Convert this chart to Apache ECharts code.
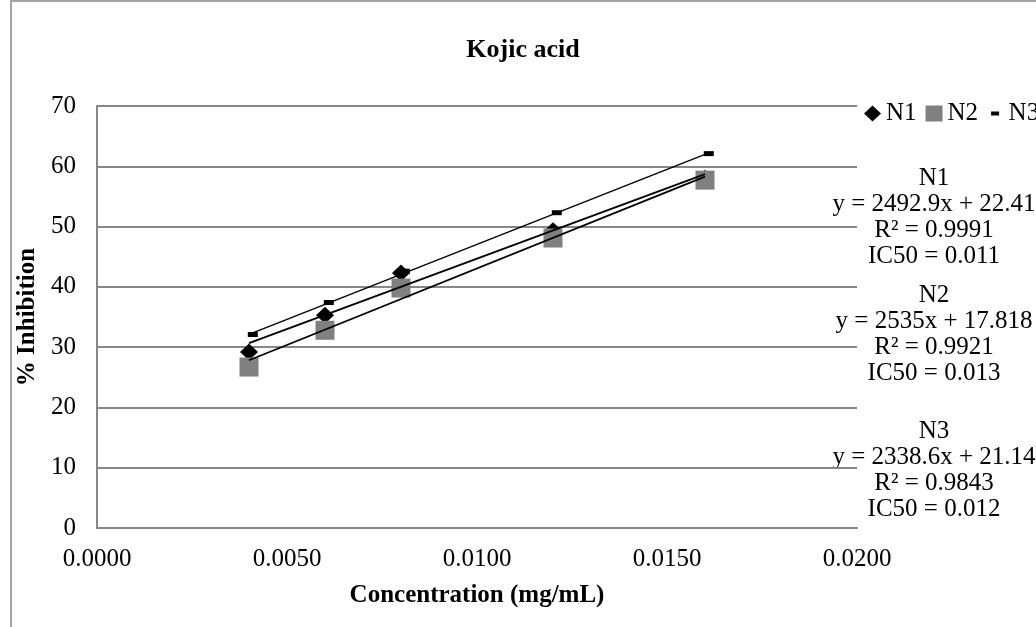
<!DOCTYPE html>
<html>
<head>
<meta charset="utf-8">
<script src="https://cdn.jsdelivr.net/npm/echarts@6/dist/echarts.min.js"></script>
<style>
  html, body { margin: 0; padding: 0; background: #ffffff; }
  #chart { width: 1036px; height: 627px; }
</style>
</head>
<body>
<div id="chart"></div>
<script>
// Concentrations (mg/mL)
const concentrations = [0.004, 0.006, 0.008, 0.012, 0.016];
const concentrationsN3 = [0.0041, 0.0061, 0.0081, 0.0121, 0.0161];

// % inhibition per replicate
const inhibitionN1 = [29.2, 35.3, 42.3, 49.3, 58.0];
const inhibitionN2 = [26.7, 32.8, 39.8, 48.1, 57.7];
const inhibitionN3 = [32.1, 37.4, 42.6, 52.3, 62.1];

const seriesNames = ['N1', 'N2', 'N3'];

// Trendline equation boxes, as printed beside the plot
const equationN1 = ['N1', 'y = 2492.9x + 22.41', 'R\u00b2 = 0.9991', 'IC50 = 0.011'];
const equationN2 = ['N2', 'y = 2535x + 17.818', 'R\u00b2 = 0.9921', 'IC50 = 0.013'];
const equationN3 = ['N3', 'y = 2338.6x + 21.14', 'R\u00b2 = 0.9843', 'IC50 = 0.012'];

const FONT = "'Liberation Serif', 'Times New Roman', serif";
const GRID_GREY = '#878787';
const TEXT_SIZE = 25;

function pairs(xs, ys) {
  return xs.map((x, i) => [x, ys[i]]);
}

// Least-squares linear trendline spanning the series' x range
function trendline(xs, ys) {
  const n = xs.length;
  const mx = xs.reduce((a, b) => a + b, 0) / n;
  const my = ys.reduce((a, b) => a + b, 0) / n;
  let sxy = 0, sxx = 0;
  for (let i = 0; i < n; i++) {
    sxy += (xs[i] - mx) * (ys[i] - my);
    sxx += (xs[i] - mx) * (xs[i] - mx);
  }
  const slope = sxy / sxx;
  const icpt = my - slope * mx;
  const x0 = Math.min(...xs), x1 = Math.max(...xs);
  return [[x0, icpt + slope * x0], [x1, icpt + slope * x1]];
}

function fitSeries(name, xs, ys, width) {
  return {
    name: name + ' trend',
    type: 'line',
    data: trendline(xs, ys),
    symbol: 'none',
    silent: true,
    z: 5,
    lineStyle: { color: '#000000', width: width },
    emphasis: { disabled: true }
  };
}

function equationBlock(lines, top) {
  return {
    type: 'text',
    x: 934,
    y: top,
    silent: true,
    style: {
      text: lines.join('\n'),
      fontFamily: FONT,
      fontSize: TEXT_SIZE,
      lineHeight: 26,
      fill: '#000000',
      align: 'center',
      verticalAlign: 'top'
    }
  };
}

const chart = echarts.init(document.getElementById('chart'), null, { renderer: 'canvas' });

chart.setOption({
  animation: false,
  backgroundColor: '#ffffff',
  title: {
    text: 'Kojic acid',
    left: 518,
    textAlign: 'center',
    top: 32,
    textStyle: { fontFamily: FONT, fontSize: 26, fontWeight: 'bold', color: '#000000' }
  },
  legend: {
    left: 864,
    top: 101,
    width: 400,
    padding: 0,
    orient: 'horizontal',
    itemWidth: 17,
    itemHeight: 16,
    itemGap: 9,
    selectedMode: false,
    textStyle: { fontFamily: FONT, fontSize: TEXT_SIZE, color: '#000000' },
    data: [
      { name: seriesNames[0], icon: 'diamond' },
      { name: seriesNames[1], icon: 'rect' },
      { name: seriesNames[2], icon: 'path://M0,0M16,16M4,6h8v4h-8z' }
    ]
  },
  grid: { left: 97, right: 179, top: 106, bottom: 99, containLabel: false },
  xAxis: {
    type: 'value',
    min: 0,
    max: 0.02,
    interval: 0.005,
    name: 'Concentration (mg/mL)',
    nameLocation: 'middle',
    nameGap: 55,
    nameTextStyle: { fontFamily: FONT, fontSize: TEXT_SIZE, fontWeight: 'bold', color: '#000000' },
    axisLine: { show: true, lineStyle: { color: GRID_GREY, width: 2 } },
    axisTick: { show: false },
    splitLine: { show: false },
    axisLabel: {
      fontFamily: FONT, fontSize: TEXT_SIZE, color: '#000000', margin: 19,
      formatter: v => v.toFixed(4)
    }
  },
  yAxis: {
    type: 'value',
    min: 0,
    max: 70,
    interval: 10,
    name: '% Inhibition',
    nameLocation: 'middle',
    nameRotate: 90,
    nameGap: 55,
    nameTextStyle: { fontFamily: FONT, fontSize: TEXT_SIZE, fontWeight: 'bold', color: '#000000' },
    axisLine: { show: true, lineStyle: { color: GRID_GREY, width: 2 } },
    axisTick: { show: false },
    splitLine: { show: true, lineStyle: { color: GRID_GREY, width: 2 } },
    axisLabel: { fontFamily: FONT, fontSize: TEXT_SIZE, color: '#000000', margin: 21 }
  },
  series: [
    {
      name: seriesNames[0], type: 'scatter', symbol: 'diamond', symbolSize: [18, 17],
      itemStyle: { color: '#000000', opacity: 1 }, data: pairs(concentrations, inhibitionN1), z: 2
    },
    {
      name: seriesNames[1], type: 'scatter', symbol: 'rect', symbolSize: 19,
      itemStyle: { color: '#808080', opacity: 1 }, data: pairs(concentrations, inhibitionN2), z: 2
    },
    {
      name: seriesNames[2], type: 'scatter', symbol: 'rect', symbolSize: [10, 5],
      itemStyle: { color: '#000000', opacity: 1 }, data: pairs(concentrationsN3, inhibitionN3), z: 2
    },
    fitSeries(seriesNames[0], concentrations, inhibitionN1, 1.8),
    fitSeries(seriesNames[1], concentrations, inhibitionN2, 1.8),
    fitSeries(seriesNames[2], concentrationsN3, inhibitionN3, 1.4)
  ],
  graphic: [
    {
      type: 'rect',
      shape: { x: 11, y: 1, width: 2000, height: 2000 },
      style: { fill: 'none', stroke: GRID_GREY, lineWidth: 1.5 },
      silent: true, z: -1
    },
    equationBlock(equationN1, 165),
    equationBlock(equationN2, 282),
    equationBlock(equationN3, 418)
  ]
});
</script>
</body>
</html>
